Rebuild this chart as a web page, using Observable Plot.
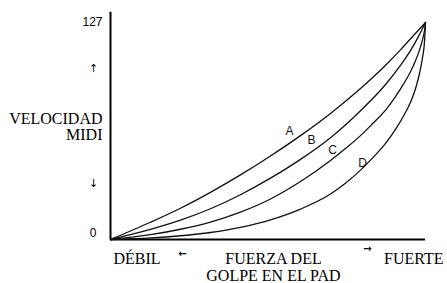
<!DOCTYPE html>
<html><head><meta charset="utf-8">
<script src="https://cdn.jsdelivr.net/npm/d3@7"></script>
<script src="https://cdn.jsdelivr.net/npm/@observablehq/plot@0.6"></script>
<style>body{margin:0;background:#fff}</style>
</head><body><div id="chart"></div>
<script>
// Fuerza del golpe (0–127) vs. velocidad MIDI
const forceA = [0, 16.1, 28.2, 40.3, 52.4, 64.5, 76.6, 88.7, 100.8, 110.9, 116.9, 123.0, 127];
const velA   = [0, 10.1, 18.3, 27.6, 37.8, 48.9, 60.8, 73.8, 88.4, 102.0, 111.0, 120.7, 127];
const forceB = [0, 16.1, 28.2, 40.3, 52.4, 64.5, 76.6, 88.7, 100.8, 110.9, 116.9, 121.0, 124.2, 127];
const velB   = [0, 5.9, 11.3, 18.0, 26.2, 35.9, 46.9, 59.6, 75.4, 90.7, 101.9, 110.7, 118.9, 127];
const forceC = [0, 16.1, 28.2, 40.3, 52.4, 64.5, 76.6, 88.7, 94.7, 100.8, 105.6, 110.9, 114.9, 118.1, 121.0, 123.0, 124.6, 125.8, 126.6, 127];
const velC   = [0, 2.8, 6.0, 10.2, 16.0, 23.7, 33.9, 46.2, 53.2, 60.8, 67.7, 75.7, 83.6, 90.9, 98.3, 104.7, 111.0, 117.0, 122.3, 127];
const forceD = [0, 16.1, 28.2, 40.3, 52.4, 64.5, 76.6, 88.7, 94.7, 100.8, 105.6, 110.9, 114.9, 118.1, 121.0, 123.0, 124.6, 125.8, 126.6, 127];
const velD   = [0, 0.9, 2.2, 4.1, 7.1, 11.5, 17.8, 26.6, 32.9, 40.6, 47.6, 56.2, 64.4, 72.1, 80.5, 88.4, 97.3, 106.4, 115.8, 127];
const curveNames = ["A", "B", "C", "D"];
const labelForce = [72.2, 81.0, 89.5, 101.6];
const labelVelocity = [63.2, 57.9, 52.1, 44.5];
const yTickTop = [127];
const yTickBottom = [0];

const forces = [forceA, forceB, forceC, forceD];
const vels = [velA, velB, velC, velD];
const rows = curveNames.flatMap((name, i) => forces[i].map((f, j) => ({curve: name, force: f, velocity: vels[i][j]})));
const labels = curveNames.map((name, i) => ({curve: name, force: labelForce[i], velocity: labelVelocity[i]}));

const serif = "'Liberation Serif', 'Times New Roman', serif";
const sans = "'Liberation Sans', Arial, sans-serif";

const chart = Plot.plot({
  width: 447, height: 283,
  marginLeft: 110, marginRight: 22, marginTop: 22, marginBottom: 44,
  x: {domain: [0, 127], axis: null},
  y: {domain: [0, 127], axis: null},
  style: {background: "#fff", color: "#000"},
  marks: [
    Plot.ruleX([0], {y1: 0, y2: 133, stroke: "#000", strokeWidth: 2}),
    Plot.ruleY([0], {x1: 0, x2: 127, stroke: "#000", strokeWidth: 2}),
    Plot.line(rows, {x: "force", y: "velocity", z: "curve", curve: "monotone-x", stroke: "#111", strokeWidth: 1.3}),
    Plot.text(labels, {x: "force", y: "velocity", text: "curve", fontSize: 12, fontFamily: sans, fill: "#111"}),
    Plot.axisY(yTickTop, {tickSize: 0, tickPadding: 8, fontSize: 12, fontFamily: sans, label: null}),
    Plot.axisY(yTickBottom, {tickSize: 0, tickPadding: 14, dy: -6, fontSize: 12, fontFamily: sans, label: null}),
    Plot.text(["VELOCIDAD\nMIDI"], {x: 0, y: 66.1, text: d => d, textAnchor: "end", dx: -8, lineHeight: 1, fontSize: 16, fontFamily: serif}),
    Plot.text(["↑"], {x: 0, y: 100, text: d => d, dx: -17, fontSize: 11, fontFamily: "'DejaVu Sans'"}),
    Plot.text(["↓"], {x: 0, y: 32.8, text: d => d, dx: -17, fontSize: 11, fontFamily: "'DejaVu Sans'"}),
    Plot.text(["DÉBIL"], {x: 0, frameAnchor: "bottom", lineAnchor: "middle", text: d => d, textAnchor: "start", dx: 3, dy: 19, fontSize: 16, fontFamily: serif}),
    Plot.text(["FUERZA DEL\nGOLPE EN EL PAD"], {x: 65.7, frameAnchor: "bottom", lineAnchor: "middle", text: d => d, dy: 27.5, lineHeight: 1.06, fontSize: 16, fontFamily: serif}),
    Plot.text(["FUERTE"], {x: 127, frameAnchor: "bottom", lineAnchor: "middle", text: d => d, textAnchor: "end", dx: 18, dy: 19, fontSize: 16, fontFamily: serif}),
    Plot.text(["←"], {x: 29.0, frameAnchor: "bottom", lineAnchor: "middle", text: d => d, dy: 14, fontSize: 10, fontWeight: "bold", fontFamily: "'DejaVu Sans'"}),
    Plot.text(["→"], {x: 103.6, frameAnchor: "bottom", lineAnchor: "middle", text: d => d, dy: 9, fontSize: 10, fontWeight: "bold", fontFamily: "'DejaVu Sans'"})
  ]
});
document.getElementById("chart").append(chart);
</script>
</body></html>
